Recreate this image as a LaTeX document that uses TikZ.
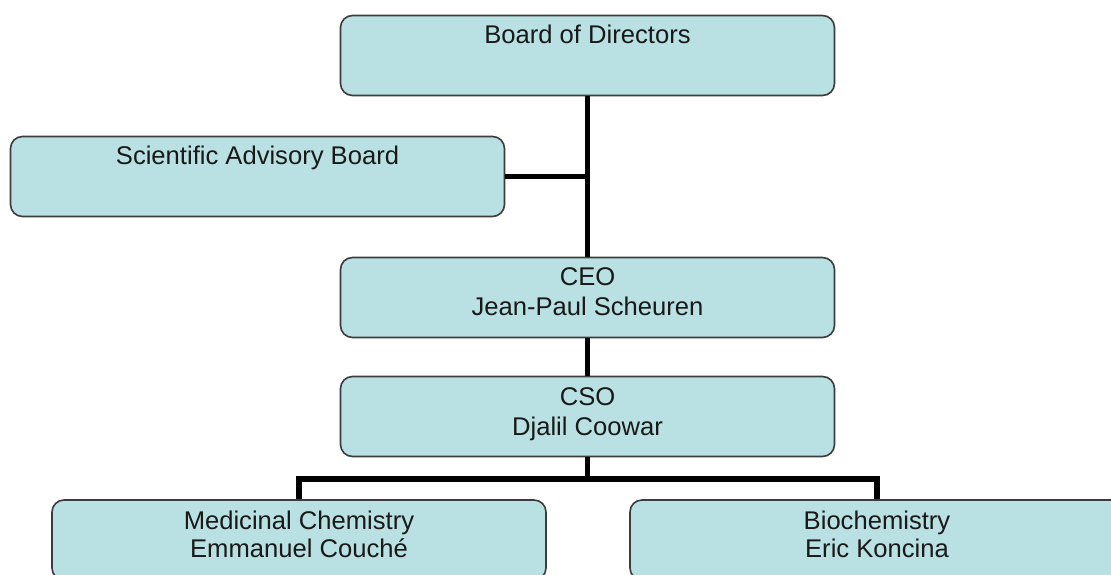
\documentclass[tikz,border=0pt]{standalone}
\usepackage{fontspec}
\setmainfont{Liberation Sans}
\definecolor{boxfill}{RGB}{185,224,227}
\definecolor{boxline}{RGB}{60,60,60}
\definecolor{txtcol}{RGB}{25,25,25}
\begin{document}
\begin{tikzpicture}[x=1pt,y=-1pt,
  orgbox/.style={draw=boxline, line width=1.6pt, fill=boxfill, rounded corners=12pt,
    minimum width=494pt, minimum height=80pt, inner sep=0pt},
  txt/.style={anchor=base, inner sep=0pt, text=txtcol, font=\fontsize{25.6}{30}\selectfont},
  link/.style={line width=5.5pt, black}]
\useasboundingbox (0,0) rectangle (1111,574);
\clip (0,0) rectangle (1111,574);
\fill[white] (0,0) rectangle (1111,574);

\node[orgbox] (bod) at (587.5,55.5) {};
\node[orgbox] (sab) at (257.5,176.5) {};
\node[orgbox] (ceo) at (587.5,297.5) {};
\node[orgbox] (cso) at (587.5,416.5) {};
\node[orgbox] (med) at (299,540) {};
\node[orgbox] (bio) at (877,540) {};

\node[txt] (bodt) at ([yshift=-29pt]bod.north) {Board of Directors};
\node[txt] (sabt) at ([yshift=-29pt]sab.north) {Scientific Advisory Board};
\node[txt] (ceot1) at ([yshift=-29pt]ceo.north) {CEO};
\node[txt] (ceot2) at ([yshift=-59pt]ceo.north) {Jean-Paul Scheuren};
\node[txt] (csot1) at ([yshift=-30pt]cso.north) {CSO};
\node[txt] (csot2) at ([yshift=-60pt]cso.north) {Djalil Coowar};
\node[txt] (medt1) at ([yshift=-30pt]med.north) {Medicinal Chemistry};
\node[txt] (medt2) at ([yshift=-58pt]med.north) {Emmanuel Couché};
\node[txt] (biot1) at ([yshift=-30pt]bio.north) {Biochemistry};
\node[txt] (biot2) at ([yshift=-58pt]bio.north) {Eric Koncina};

\coordinate (j1) at (bod.south |- sab.east);
\coordinate (j2) at (cso.south |- 0,479);

\draw[link] (bod.south) -- (ceo.north);
\draw[link] (sab.east) -- (j1);
\draw[link] (ceo.south) -- (cso.north);
\draw[link] (cso.south) -- (j2);
\draw[link] (med.north) |- (j2) -| (bio.north);
\end{tikzpicture}
\end{document}
